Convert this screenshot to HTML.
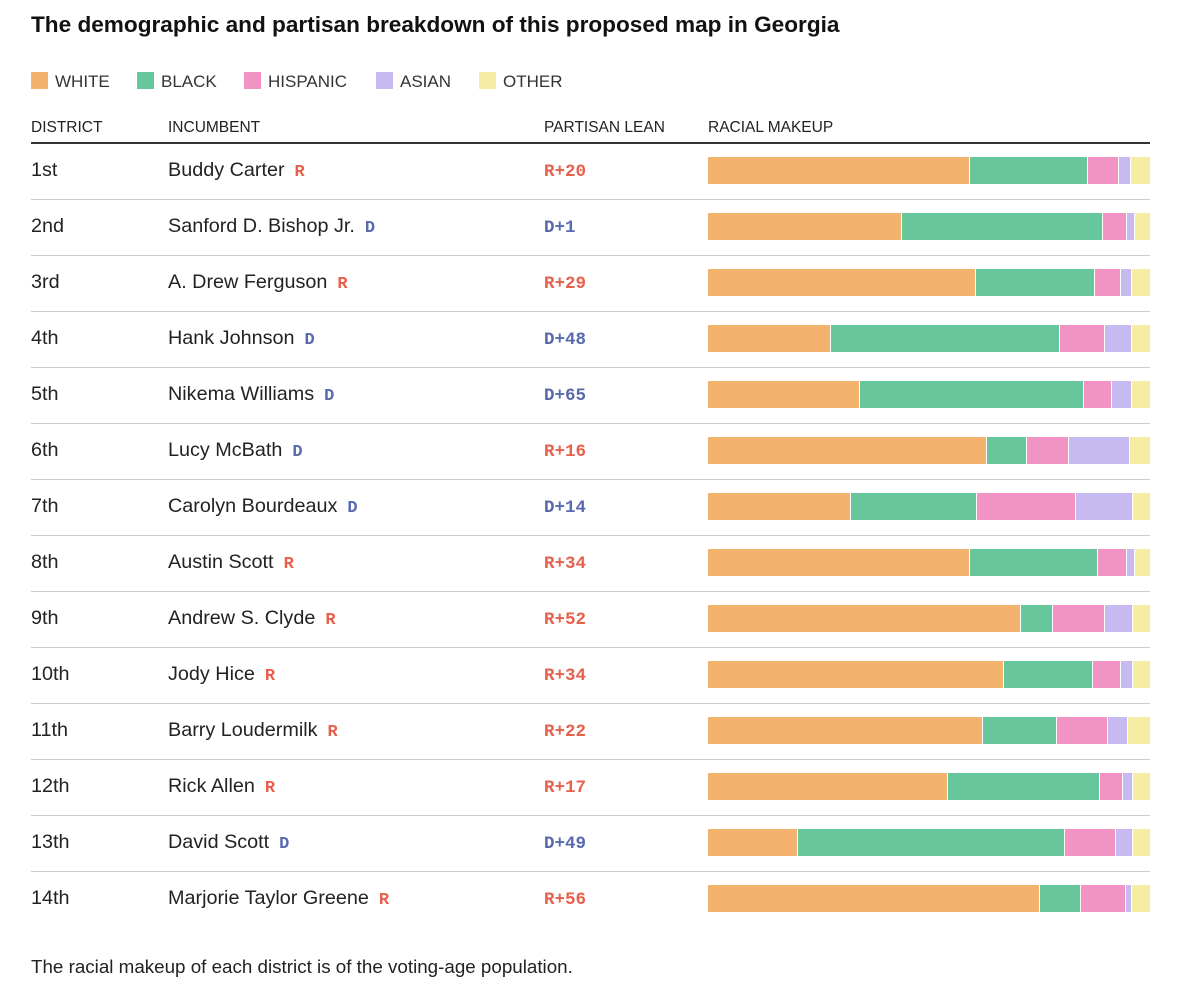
<!DOCTYPE html>
<html><head><meta charset="utf-8">
<style>
body{margin:0;background:#fff;width:1200px;height:1006px;position:relative;font-family:"Liberation Sans",Arial,sans-serif;color:#222;overflow:hidden}
.a{position:absolute;white-space:nowrap}
#title{left:31px;top:12px;font-size:22.6px;font-weight:bold;color:#111}
.lg{top:72px;font-size:17px;color:#333}
.sw{display:inline-block;width:17px;height:17px;vertical-align:-2px;margin-right:7px}
.hd{top:119px;font-size:15.5px;color:#222}
.cell{font-size:19.8px;color:#222}
.party{font-family:"Liberation Mono",monospace;font-weight:bold;font-size:17px;margin-left:10px}
.lean{font-family:"Liberation Mono",monospace;font-weight:bold;font-size:17.5px}
.R{color:#e8604c}.D{color:#5869ae}
#foot{left:31px;top:956px;font-size:18.8px;color:#222}
</style></head><body>
<div class="a" id="title">The demographic and partisan breakdown of this proposed map in Georgia</div>
<div class="a lg" style="left:31px"><span class="sw" style="background:#f4b26f"></span>WHITE</div>
<div class="a lg" style="left:137px"><span class="sw" style="background:#67c69b"></span>BLACK</div>
<div class="a lg" style="left:244px"><span class="sw" style="background:#f194c4"></span>HISPANIC</div>
<div class="a lg" style="left:376px"><span class="sw" style="background:#c7baf0"></span>ASIAN</div>
<div class="a lg" style="left:479px"><span class="sw" style="background:#f6eca4"></span>OTHER</div>
<div class="a hd" style="left:31px">DISTRICT</div>
<div class="a hd" style="left:168px">INCUMBENT</div>
<div class="a hd" style="left:544px">PARTISAN LEAN</div>
<div class="a hd" style="left:708px">RACIAL MAKEUP</div>
<div class="a" style="left:31px;top:142px;width:1119px;height:2px;background:#333"></div>
<div id="rows"></div>
<div class="a" id="foot">The racial makeup of each district is of the voting-age population.</div>
<script>
const districts=["1st","2nd","3rd","4th","5th","6th","7th","8th","9th","10th","11th","12th","13th","14th"];
const incumbents=["Buddy Carter","Sanford D. Bishop Jr.","A. Drew Ferguson","Hank Johnson","Nikema Williams","Lucy McBath","Carolyn Bourdeaux","Austin Scott","Andrew S. Clyde","Jody Hice","Barry Loudermilk","Rick Allen","David Scott","Marjorie Taylor Greene"];
const parties=["R","D","R","D","D","D","D","R","R","R","R","R","D","R"];
const leans=["R+20","D+1","R+29","D+48","D+65","R+16","D+14","R+34","R+52","R+34","R+22","R+17","D+49","R+56"];
const white=[59.3,43.9,60.6,27.8,34.4,63.1,32.4,59.3,70.8,67.0,62.2,54.3,20.4,75.1];
const black=[26.7,45.5,26.9,51.8,50.7,9.0,28.5,29.0,7.2,20.1,16.7,34.4,60.4,9.3];
const hispanic=[7.0,5.4,5.9,10.2,6.3,9.5,22.4,6.6,11.8,6.3,11.5,5.2,11.5,10.2];
const asian=[2.7,1.8,2.5,6.1,4.5,13.8,12.9,1.8,6.3,2.7,4.5,2.3,3.8,1.4];
const other=[4.3,3.4,4.1,4.1,4.1,4.5,3.8,3.4,3.8,3.8,5.0,3.8,3.8,4.1];
const series=[white,black,hispanic,asian,other];
const colors=["#f4b26f","#67c69b","#f194c4","#c7baf0","#f6eca4"];
const segNames=["white","black","hispanic","asian","other"];
const root=document.getElementById('rows');
const X0=708,W=442;
function mk(cls,style,html){const d=document.createElement('div');d.className='a '+cls;d.style.cssText=style;if(html!=null)d.innerHTML=html;root.appendChild(d);return d;}
districts.forEach((dn,i)=>{
  const cy=170+56*i;
  let el=mk('cell','left:31px;top:'+(cy-11)+'px',dn);
  
  
  el=mk('cell','left:168px;top:'+(cy-11)+'px',incumbents[i]+'<span class="party '+parties[i]+'">'+parties[i]+'</span>');
  
  
  el=mk('lean '+leans[i][0],'left:544px;top:'+(cy-8)+'px',leans[i]);
  
  
  const tot=series.reduce((s,a)=>s+a[i],0);
  let acc=0;
  series.forEach((arr,k)=>{
    const x=X0+acc/tot*W,w=arr[i]/tot*W;acc+=arr[i];
    const b=mk('','left:'+x+'px;top:'+(cy-13)+'px;width:'+Math.max(0,w-(k<4?1:0))+'px;height:27px;background:'+colors[k]);
    
    
  });
  if(i<districts.length-1){
    const s=mk('','left:31px;top:'+(cy+29)+'px;width:1119px;height:1px;background:#ccc');
    
    
  }
});
</script>
</body></html>
